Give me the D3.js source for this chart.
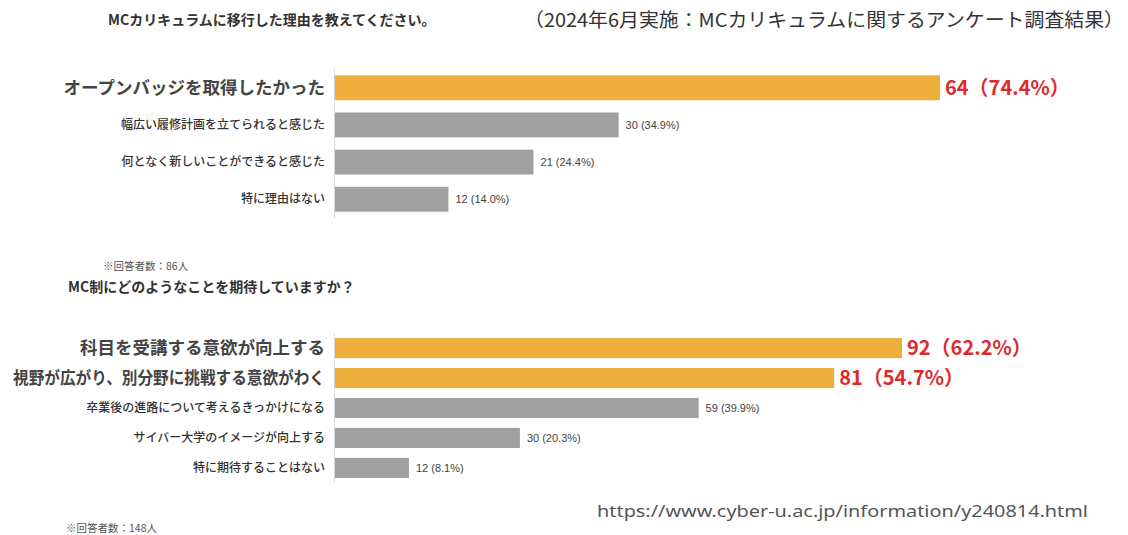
<!DOCTYPE html>
<html>
<head>
<meta charset="utf-8">
<script src="https://cdn.jsdelivr.net/npm/d3@7"></script>
<style>
  body { margin: 0; background: #fff; }
  svg { display: block; }
  .jp { font-family: "Noto Sans CJK JP", sans-serif; }
</style>
</head>
<body>
<div id="chart"></div>
<script>
// question 1: why move to MC curriculum
var q1Title = "MCカリキュラムに移行した理由を教えてください。";
var q1Categories = ["オープンバッジを取得したかった", "幅広い履修計画を立てられると感じた", "何となく新しいことができると感じた", "特に理由はない"];
var q1Counts = [64, 30, 21, 12];
var q1Percents = [74.4, 34.9, 24.4, 14.0];
var q1Highlight = [true, false, false, false];
var q1Note = "※回答者数：86人";

// question 2: what do you expect
var q2Title = "MC制にどのようなことを期待していますか？";
var q2Categories = ["科目を受講する意欲が向上する", "視野が広がり、別分野に挑戦する意欲がわく", "卒業後の進路について考えるきっかけになる", "サイバー大学のイメージが向上する", "特に期待することはない"];
var q2Counts = [92, 81, 59, 30, 12];
var q2Percents = [62.2, 54.7, 39.9, 20.3, 8.1];
var q2Highlight = [true, true, false, false, false];
var q2Note = "※回答者数：148人";

var surveyNote = "（2024年6月実施：MCカリキュラムに関するアンケート調査結果）";
var sourceUrl = "https://www.cyber-u.ac.jp/information/y240814.html";

var W = 1128, H = 535;
var fmt = d3.format(".1f");

var svg = d3.select("#chart").append("svg")
  .attr("width", W)
  .attr("height", H);

svg.append("rect").attr("width", W).attr("height", H).attr("fill", "#fff");

function drawBar(cats, counts, pcts, hl, top, bottom, xEnd) {
  var data = cats.map(function(c, i) {
    return {cat: c, n: counts[i], p: pcts[i], hl: hl[i]};
  });

  var x = d3.scaleLinear()
    .domain([0, d3.max(counts)])
    .range([335, xEnd]);

  var y = d3.scaleBand()
    .domain(cats)
    .range([top, bottom])
    .paddingInner(0.33)
    .paddingOuter(0.17);

  var g = svg.append("g");

  // bars
  g.selectAll("rect.bar")
    .data(data)
    .enter()
    .append("rect")
    .attr("class", "bar")
    .attr("x", x(0))
    .attr("y", function(d) { return y(d.cat); })
    .attr("width", function(d) { return x(d.n) - x(0); })
    .attr("height", y.bandwidth())
    .attr("fill", function(d) { return d.hl ? "#edae3b" : "#a0a0a0"; });

  // the thin axis line
  g.append("line")
    .attr("x1", 334.5).attr("x2", 334.5)
    .attr("y1", top).attr("y2", bottom)
    .attr("stroke", "#d8d8d8")
    .attr("stroke-width", 1);

  // category labels
  var labels = g.selectAll("text.cat")
    .data(data)
    .enter()
    .append("text")
    .attr("class", "cat jp")
    .attr("x", 325)
    .attr("y", function(d) { return y(d.cat) + y.bandwidth() / 2; })
    .attr("dy", "0.35em")
    .attr("text-anchor", "end")
    .attr("font-size", function(d) { return d.hl ? 17.5 : 12; })
    .attr("font-weight", function(d) { return d.hl ? "bold" : 500; })
    .attr("fill", function(d) { return d.hl ? "#444" : "#333"; })
    .text(function(d) { return d.cat; });

  // squeeze labels that don't fit on the left
  labels.each(function() {
    var len = this.getComputedTextLength();
    if (len > 312) {
      d3.select(this).attr("textLength", 312).attr("lengthAdjust", "spacingAndGlyphs");
    }
  });

  // value labels
  g.selectAll("text.val")
    .data(data)
    .enter()
    .append("text")
    .attr("class", "val")
    .attr("x", function(d) { return x(d.n) + (d.hl ? 5 : 7); })
    .attr("y", function(d) { return y(d.cat) + y.bandwidth() / 2; })
    .attr("dy", "0.35em")
    .attr("font-family", function(d) { return d.hl ? "'Noto Sans CJK JP', sans-serif" : "'Liberation Sans', Arial, sans-serif"; })
    .attr("font-size", function(d) { return d.hl ? 20 : 11; })
    .attr("font-weight", function(d) { return d.hl ? "bold" : "normal"; })
    .attr("fill", function(d) { return d.hl ? "#dd2a2c" : "#444"; })
    .text(function(d) {
      return d.hl ? d.n + "（" + fmt(d.p) + "%）" : d.n + " (" + fmt(d.p) + "%)";
    });
}

// titles
svg.append("text")
  .attr("class", "jp")
  .attr("x", 108).attr("y", 20)
  .attr("dy", "0.35em")
  .attr("font-size", 14).attr("font-weight", "bold")
  .attr("fill", "#333")
  .text(q1Title);

svg.append("text")
  .attr("class", "jp")
  .attr("x", 524).attr("y", 20)
  .attr("dy", "0.35em")
  .attr("font-size", 19)
  .attr("fill", "#333")
  .attr("textLength", 600)
  .attr("lengthAdjust", "spacingAndGlyphs")
  .text(surveyNote);

drawBar(q1Categories, q1Counts, q1Percents, q1Highlight, 69, 218, 940);

svg.append("text")
  .attr("class", "jp")
  .attr("x", 103).attr("y", 266)
  .attr("dy", "0.35em")
  .attr("font-size", 10.5)
  .attr("fill", "#555")
  .text(q1Note);

svg.append("text")
  .attr("class", "jp")
  .attr("x", 68).attr("y", 287)
  .attr("dy", "0.35em")
  .attr("font-size", 14).attr("font-weight", "bold")
  .attr("fill", "#333")
  .text(q2Title);

drawBar(q2Categories, q2Counts, q2Percents, q2Highlight, 333, 483, 902);

svg.append("text")
  .attr("x", 597).attr("y", 511)
  .attr("dy", "0.35em")
  .attr("font-family", "'Noto Sans', sans-serif")
  .attr("font-size", 17)
  .attr("fill", "#555")
  .attr("textLength", 491)
  .attr("lengthAdjust", "spacingAndGlyphs")
  .text(sourceUrl);

svg.append("text")
  .attr("class", "jp")
  .attr("x", 66).attr("y", 528)
  .attr("dy", "0.35em")
  .attr("font-size", 10.5)
  .attr("fill", "#555")
  .text(q2Note);
</script>
</body>
</html>
